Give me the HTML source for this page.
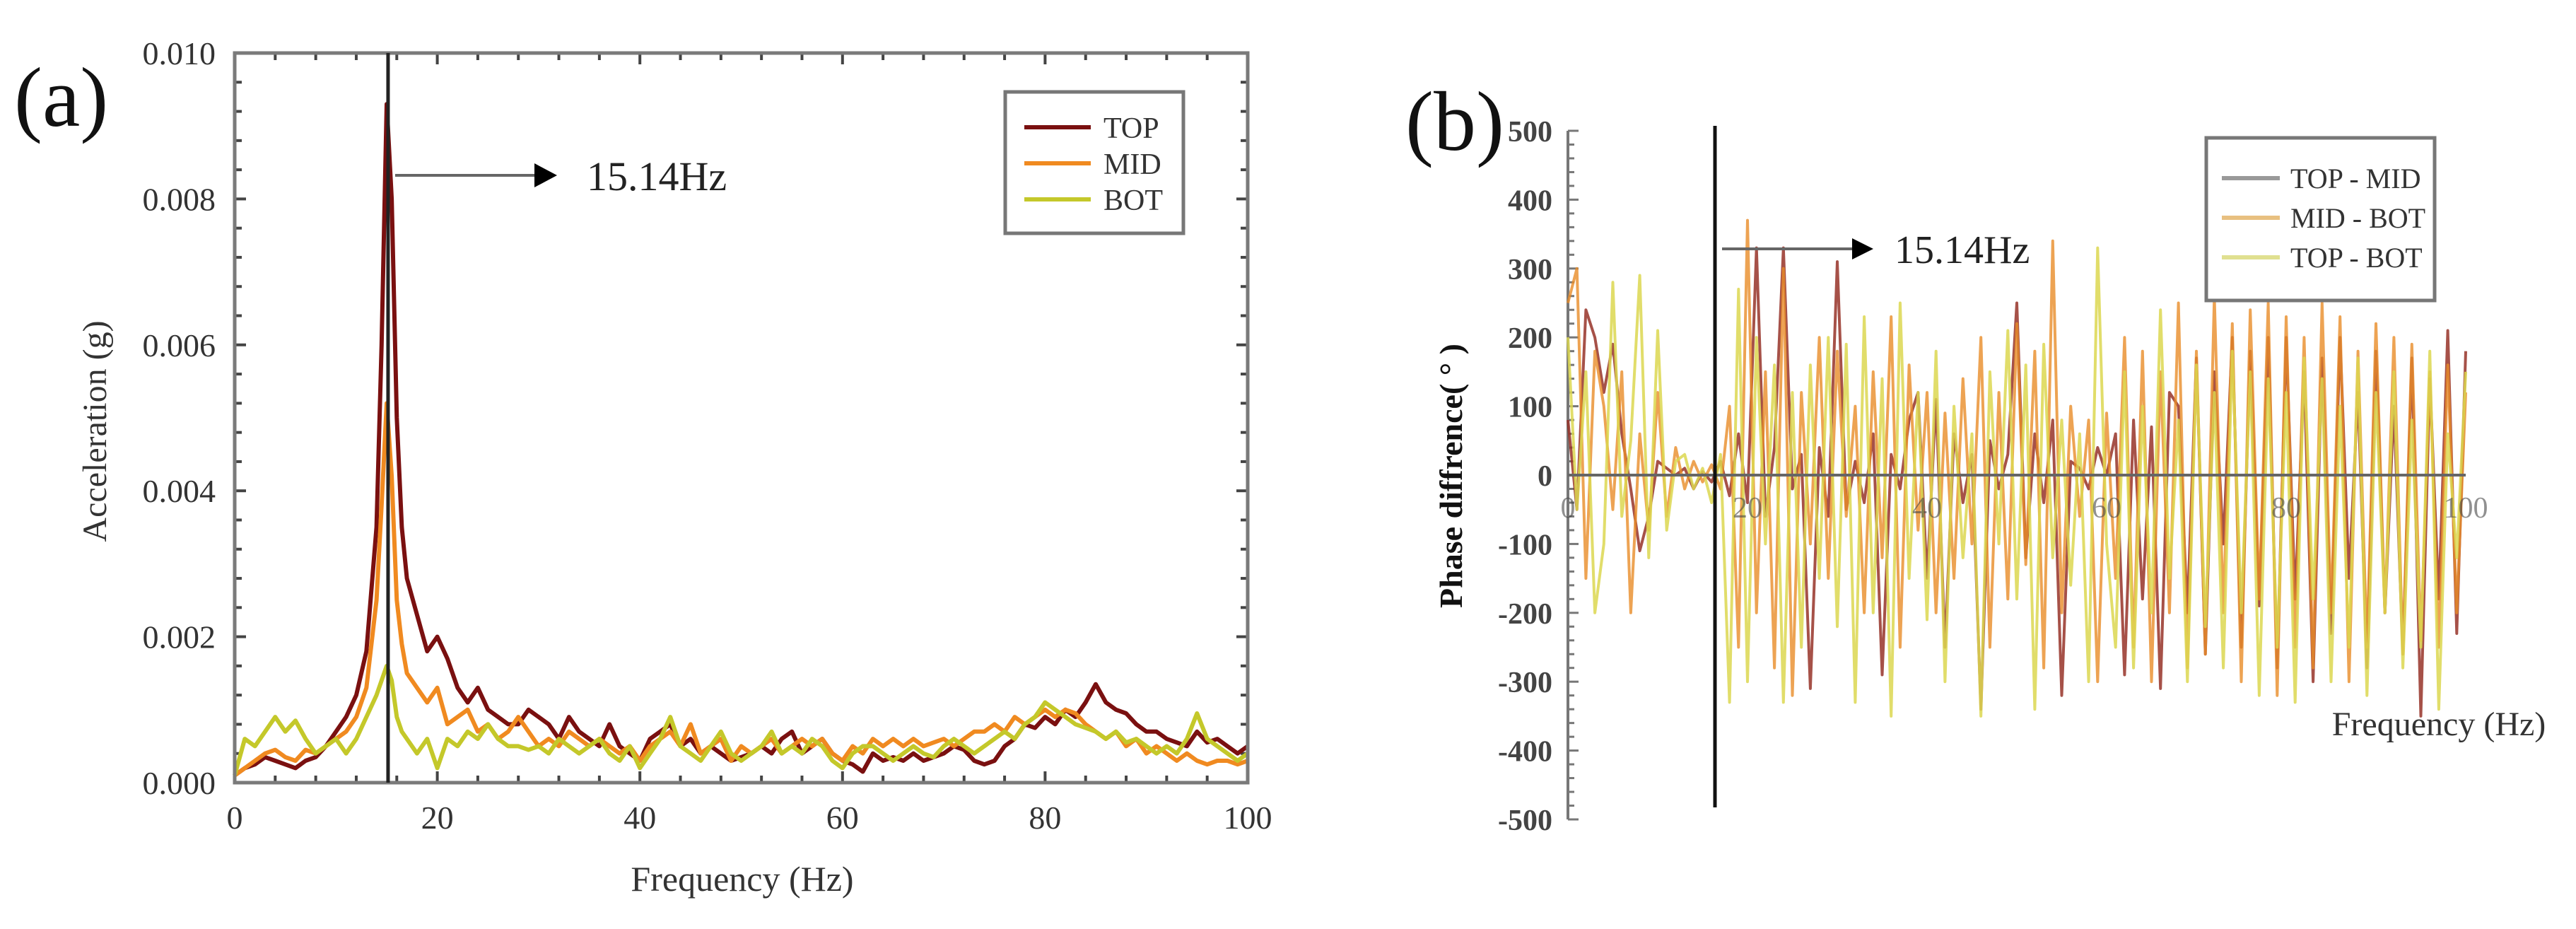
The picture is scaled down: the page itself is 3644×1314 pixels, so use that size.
<!DOCTYPE html>
<html><head><meta charset="utf-8">
<style>
html,body{margin:0;padding:0;background:#fff;}
svg{display:block;font-family:"Liberation Serif",serif;}
</style></head>
<body>
<svg id="fig" width="3644" height="1314" viewBox="0 0 3644 1314" xmlns="http://www.w3.org/2000/svg">
  <rect width="3644" height="1314" fill="#fff"/>
  <text x="20" y="178" font-size="120" fill="#111">(a)</text>
  <text x="1988" y="212" font-size="120" fill="#111">(b)</text>
  <g id="chartA"></g>
  <g id="chartB"></g>
</svg>
<script>
// ---------- Chart A data (acceleration in 0.001 g) ----------
const freqA = [0,1,2,3,4,5,6,7,8,9,10,11,12,13,14,14.5,15,15.5,16,16.5,17,18,19,20,21,22,23,24,25,26,27,28,29,30,31,32,33,34,35,36,37,38,39,40,41,42,43,44,45,46,47,48,49,50,51,52,53,54,55,56,57,58,59,60,61,62,63,64,65,66,67,68,69,70,71,72,73,74,75,76,77,78,79,80,81,82,83,84,85,86,87,88,89,90,91,92,93,94,95,96,97,98,99,100];
const topA = [0.1,0.2,0.25,0.35,0.3,0.25,0.2,0.3,0.35,0.5,0.7,0.9,1.2,1.8,3.5,6,9.3,8,5,3.5,2.8,2.3,1.8,2.0,1.7,1.3,1.1,1.3,1.0,0.9,0.8,0.8,1.0,0.9,0.8,0.6,0.9,0.7,0.6,0.5,0.8,0.5,0.4,0.3,0.6,0.7,0.8,0.5,0.6,0.4,0.5,0.4,0.3,0.35,0.4,0.5,0.4,0.6,0.7,0.4,0.5,0.6,0.4,0.3,0.25,0.15,0.4,0.3,0.35,0.3,0.4,0.3,0.35,0.4,0.5,0.45,0.3,0.25,0.3,0.5,0.6,0.8,0.75,0.9,0.8,1.0,0.9,1.1,1.35,1.1,1.0,0.95,0.8,0.7,0.7,0.6,0.55,0.5,0.7,0.55,0.6,0.5,0.4,0.5];
const midA = [0.1,0.2,0.3,0.4,0.45,0.35,0.3,0.45,0.4,0.5,0.6,0.7,0.9,1.3,2.5,3.8,5.2,4.2,2.5,1.9,1.5,1.3,1.1,1.3,0.8,0.9,1.0,0.7,0.8,0.6,0.7,0.9,0.7,0.5,0.6,0.5,0.7,0.6,0.5,0.6,0.5,0.4,0.5,0.3,0.5,0.6,0.7,0.5,0.8,0.4,0.5,0.6,0.3,0.5,0.4,0.5,0.6,0.4,0.5,0.6,0.5,0.6,0.4,0.3,0.5,0.4,0.6,0.5,0.6,0.5,0.6,0.5,0.55,0.6,0.5,0.6,0.7,0.7,0.8,0.7,0.9,0.8,0.9,1.0,0.9,1.0,0.95,0.8,0.7,0.6,0.7,0.5,0.6,0.4,0.5,0.4,0.3,0.4,0.3,0.25,0.3,0.3,0.25,0.3];
const botA = [0.1,0.6,0.5,0.7,0.9,0.7,0.85,0.6,0.4,0.5,0.6,0.4,0.6,0.9,1.2,1.4,1.6,1.4,0.9,0.7,0.6,0.4,0.6,0.2,0.6,0.5,0.7,0.6,0.8,0.6,0.5,0.5,0.45,0.5,0.4,0.6,0.5,0.4,0.5,0.6,0.4,0.3,0.5,0.2,0.4,0.6,0.9,0.5,0.4,0.3,0.5,0.7,0.4,0.3,0.4,0.5,0.7,0.4,0.5,0.4,0.6,0.5,0.3,0.2,0.4,0.5,0.5,0.4,0.3,0.4,0.5,0.4,0.35,0.5,0.6,0.5,0.4,0.5,0.6,0.7,0.6,0.8,0.9,1.1,1.0,0.9,0.8,0.75,0.7,0.6,0.7,0.55,0.6,0.5,0.4,0.5,0.4,0.6,0.95,0.6,0.5,0.4,0.3,0.4];
const yTicksA = ["0.000","0.002","0.004","0.006","0.008","0.010"];
const xTicksA = ["0","20","40","60","80","100"];
const seriesNamesA = ["TOP","MID","BOT"];

// ---------- Chart B data (phase difference in degrees, 1 Hz steps 0..100) ----------
const topMidB = [80,-50,240,200,120,190,60,-20,-110,-60,20,10,0,10,-20,5,-10,20,-30,60,-40,330,-60,40,330,-20,30,-310,40,-60,310,-50,20,-40,60,-290,30,-20,80,120,-150,110,-250,60,-40,30,-340,50,-20,30,250,-120,60,-40,80,-320,20,10,-20,40,0,60,-290,80,-180,70,-310,120,100,-200,170,-260,150,-100,200,-250,180,-190,200,-280,200,-180,150,-300,170,-230,200,-150,120,-280,180,-200,100,-260,170,-350,140,-180,210,-230,180];
const midBotB = [250,300,-150,180,100,-50,150,-200,60,-80,120,-60,40,-20,20,-10,15,-20,100,-250,370,-200,150,-280,300,-320,120,-100,200,-150,180,-60,100,-200,150,-120,230,-250,160,-80,120,-200,90,-150,140,-100,200,-250,120,-180,220,-130,180,-280,340,-200,100,-60,80,-300,90,-150,200,-250,180,-300,150,-200,250,-280,180,-260,260,-200,220,-300,240,-180,250,-320,230,-250,200,-280,250,-200,230,-300,180,-250,220,-200,200,-260,190,-240,150,-250,160,-200,120];
const topBotB = [200,-50,150,-200,-100,280,-60,50,290,-120,210,-80,20,30,-20,10,-40,30,-330,270,-300,200,-100,160,-330,120,-250,160,-150,200,-220,190,-330,230,-200,140,-350,250,-150,120,-210,180,-300,100,-120,60,-350,150,-100,210,-180,160,-340,190,-120,80,-160,60,-300,330,-100,-250,150,-280,100,-200,240,-150,80,-300,160,-220,120,-280,180,-200,150,-320,140,-250,120,-330,170,-180,140,-300,100,-250,170,-320,120,-200,150,-280,80,-250,180,-340,60,-120,150];
const yTicksB = ["-500","-400","-300","-200","-100","0","100","200","300","400","500"];
const xTicksB = ["0","20","40","60","80","100"];
const seriesNamesB = ["TOP - MID","MID - BOT","TOP - BOT"];

const NS = "http://www.w3.org/2000/svg";
function mk(parent, tag, attrs, txt) {
  const el = document.createElementNS(NS, tag);
  for (const k in attrs) el.setAttribute(k, attrs[k]);
  if (txt !== undefined) el.textContent = txt;
  parent.appendChild(el);
  return el;
}

// ================= Chart A =================
(function(){
  const g = document.getElementById('chartA');
  const L = 332, R = 1765, T = 75, B = 1107;
  const xs = f => L + (f/100)*(R-L);
  const ys = v => B - (v/10)*(B-T);
  const axisCol = "#7a7a7a";
  for (let f = 0; f <= 100; f += 4) {
    const major = f % 20 === 0;
    const len = major ? 16 : 10;
    let t = mk(g,'line',{x1:xs(f),x2:xs(f),y1:B,y2:B-len,stroke:"#444","stroke-width":4});
     
    t = mk(g,'line',{x1:xs(f),x2:xs(f),y1:T,y2:T+len,stroke:"#444","stroke-width":4});
     
  }
  for (let v = 0; v <= 10.001; v += 0.4) {
    const major = Math.abs(v/2 - Math.round(v/2)) < 1e-6;
    const len = major ? 16 : 10;
    let t = mk(g,'line',{x1:L,x2:L+len,y1:ys(v),y2:ys(v),stroke:"#444","stroke-width":4});
     
    t = mk(g,'line',{x1:R,x2:R-len,y1:ys(v),y2:ys(v),stroke:"#444","stroke-width":4});
     
  }
  yTicksA.forEach((lab,i)=>{
    const t = mk(g,'text',{x:305,y:ys(i*2)+16,"font-size":46,"text-anchor":"end",fill:"#333"},lab);
     
  });
  xTicksA.forEach((lab,i)=>{
    const t = mk(g,'text',{x:xs(i*20),y:1172,"font-size":46,"text-anchor":"middle",fill:"#333"},lab);
     
  });
  let t = mk(g,'text',{x:1050,y:1260,"font-size":50,"text-anchor":"middle",fill:"#333"},"Frequency (Hz)");
   
  t = mk(g,'text',{x:0,y:0,"font-size":48,"text-anchor":"middle",fill:"#333",transform:"translate(150,610) rotate(-90)"},"Acceleration (g)");
   

  const colors = ["#7a1010","#f08a20","#c4c82a"];
  [topA, midA, botA].forEach((arr, si)=>{
    const d = arr.map((v,i)=>(i?'L':'M')+xs(freqA[i]).toFixed(1)+','+ys(v).toFixed(1)).join('');
    const p = mk(g,'path',{d:d,fill:"none",stroke:colors[si],"stroke-width":6,"stroke-linejoin":"round"});
    
    
  });
  let fr = mk(g,'rect',{x:L,y:T,width:R-L,height:B-T,fill:"none",stroke:axisCol,"stroke-width":5});
   
  let vl = mk(g,'line',{x1:xs(15.14),x2:xs(15.14),y1:T,y2:B,stroke:"#222","stroke-width":5});
   
  let ar = mk(g,'line',{x1:xs(15.14)+10,x2:770,y1:248,y2:248,stroke:"#666","stroke-width":4});
   
  let ah = mk(g,'polygon',{points:"756,231 788,248 756,265",fill:"#000"});
   
  let pl = mk(g,'text',{x:830,y:269,"font-size":58,fill:"#222"},"15.14Hz");
   
  const lg = mk(g,'g',{});
   
  mk(lg,'rect',{x:1422,y:130,width:252,height:200,fill:"#fff",stroke:"#777","stroke-width":5});
  seriesNamesA.forEach((n,i)=>{
    const y = 180 + i*51;
    const e = mk(lg,'g',{});
     
    mk(e,'line',{x1:1449,x2:1543,y1:y,y2:y,stroke:colors[i],"stroke-width":6});
    mk(e,'text',{x:1561,y:y+15,"font-size":42,fill:"#333"},n);
  });
})();

// ================= Chart B =================
(function(){
  const g = document.getElementById('chartB');
  const L = 2218, R = 3488, T = 185, B = 1159;
  const xs = f => L + (f/100)*(R-L);
  const ys = v => (T+B)/2 - (v/500)*((B-T)/2);
  let ax = mk(g,'line',{x1:L,x2:L,y1:T,y2:B,stroke:"#777","stroke-width":4});
   
  for (let v = -500; v <= 500; v += 20) {
    const major = v % 100 === 0;
    const t = mk(g,'line',{x1:L,x2:L+(major?15:9),y1:ys(v),y2:ys(v),stroke:"#777","stroke-width":3});
     
  }
  yTicksB.forEach((lab,i)=>{
    const t = mk(g,'text',{x:2196,y:ys(-500+i*100)+15,"font-size":42,"text-anchor":"end",fill:"#444","font-weight":"bold"},lab);
     
  });
  let t = mk(g,'text',{x:0,y:0,"font-size":46,"font-weight":"bold","text-anchor":"middle",fill:"#111",transform:"translate(2068,673) rotate(-90)"},"Phase diffrence( ° )");
   

  const colors = ["rgba(150,50,40,0.85)","rgba(232,140,40,0.8)","rgba(220,215,80,0.85)"];
  [topMidB, midBotB, topBotB].forEach((arr, si)=>{
    const d = arr.map((v,i)=>(i?'L':'M')+xs(i).toFixed(1)+','+ys(v).toFixed(1)).join('');
    const p = mk(g,'path',{d:d,fill:"none",stroke:colors[si],"stroke-width":4,"stroke-linejoin":"round"});
    
    
  });
  let zl = mk(g,'line',{x1:L,x2:R,y1:ys(0),y2:ys(0),stroke:"#666","stroke-width":4});
   
  xTicksB.forEach((lab,i)=>{
    const tt = mk(g,'text',{x:xs(i*20),y:ys(0)+60,"font-size":42,"text-anchor":"middle",fill:"rgba(70,70,70,0.6)"},lab);
     
  });
  let xt = mk(g,'text',{x:3450,y:1040,"font-size":48,"text-anchor":"middle",fill:"#333"},"Frequency (Hz)");
   
  let vl = mk(g,'line',{x1:2426,x2:2426,y1:178,y2:1142,stroke:"#111","stroke-width":5});
   
  let ar = mk(g,'line',{x1:2436,x2:2630,y1:352,y2:352,stroke:"#666","stroke-width":4});
   
  let ah = mk(g,'polygon',{points:"2620,337 2650,352 2620,367",fill:"#000"});
   
  let pl = mk(g,'text',{x:2680,y:372,"font-size":56,fill:"#222"},"15.14Hz");
   
  const lg = mk(g,'g',{});
   
  mk(lg,'rect',{x:3121,y:195,width:323,height:230,fill:"#fff",stroke:"#777","stroke-width":5});
  const lc = ["#999","#e8c080","#e0e090"];
  seriesNamesB.forEach((n,i)=>{
    const y = 252 + i*56;
    const e = mk(lg,'g',{});
     
    mk(e,'line',{x1:3143,x2:3225,y1:y,y2:y,stroke:lc[i],"stroke-width":6});
    mk(e,'text',{x:3240,y:y+14,"font-size":40,fill:"#333"},n);
  });
})();
</script>
</body></html>
